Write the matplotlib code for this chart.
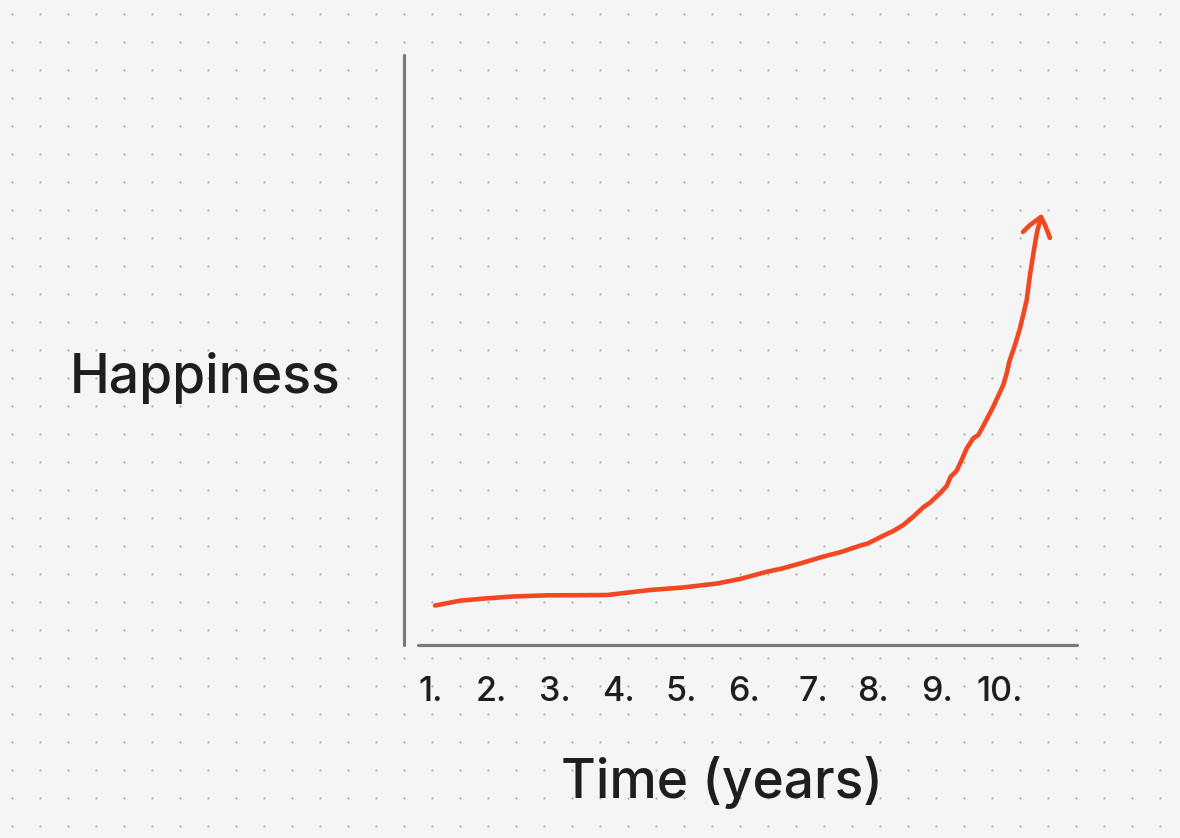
import numpy as np
import matplotlib
matplotlib.use("Agg")
import matplotlib.pyplot as plt

plt.rcParams['font.family'] = ['Inter', 'DejaVu Sans']

# ---- data ----
years = [1.073, 1.468, 1.863, 2.305, 2.842, 3.364, 3.790, 3.996, 4.470, 4.991,
         5.528, 5.892, 6.318, 6.571, 6.840, 7.203, 7.472, 7.788, 7.919, 8.104,
         8.314, 8.472, 8.630, 8.788, 8.894, 9.052, 9.158, 9.221, 9.316, 9.395,
         9.474, 9.578, 9.657, 9.736, 9.894, 10.052, 10.106, 10.147, 10.237, 10.316,
         10.379, 10.422, 10.474, 10.537, 10.585, 10.648]
happiness = [6.69, 7.51, 7.88, 8.22, 8.42, 8.44, 8.47, 8.73, 9.32, 9.75,
             10.42, 11.19, 12.42, 13.0, 13.81, 14.97, 15.71, 16.83, 17.24, 18.25,
             19.32, 20.34, 21.75, 23.34, 24.12, 25.71, 26.95, 28.53, 29.54, 31.36,
             33.34, 35.03, 35.59, 37.12, 40.39, 44.07, 46.05, 48.02, 50.85, 53.68,
             56.49, 58.47, 62.71, 66.95, 70.0, 72.54]
arrow_x = [10.363, 10.474, 10.648, 10.711, 10.790]
arrow_y = [70.0, 71.19, 72.54, 71.19, 69.0]

tick_pos = [1.0, 1.96, 2.97, 3.97, 4.96, 5.96, 7.05, 8.0, 9.0, 10.0]
tick_labels = ["1.", "2.", "3.", "4.", "5.", "6.", "7.", "8.", "9.", "10."]

x_label = "Time (years)"
y_label = "Happiness"

BG = "#f5f5f5"
DOT = "#adadad"
RED = "#f24822"
AXIS = "#7a7a7a"
TXT = "#1e1e1e"

W, H = 1180, 838
fig = plt.figure(figsize=(W / 100, H / 100), dpi=100, facecolor=BG)

# dotted background
bg = fig.add_axes([0, 0, 1, 1])
bg.set_xlim(0, W)
bg.set_ylim(H, 0)
bg.axis("off")
gx, gy = np.meshgrid(np.arange(12, W, 28), np.arange(14, H, 28))
bg.scatter(gx.ravel(), gy.ravel(), s=2.5, color=DOT, linewidths=0)

# main axes
left, right, bottom, top = 404, 1077, 645, 55
ax = fig.add_axes([left / W, (H - bottom) / H, (right - left) / W, (bottom - top) / H])
ax.patch.set_alpha(0)
ax.set_xlim(0.583, 11.217)
ax.set_ylim(0, 100)
for s in ["top", "right"]:
    ax.spines[s].set_visible(False)
for s in ["left", "bottom"]:
    ax.spines[s].set_color(AXIS)
    ax.spines[s].set_linewidth(2.3)
ax.spines["bottom"].set_bounds(0.804, 11.217)
ax.spines["left"].set_capstyle("round")
ax.spines["bottom"].set_capstyle("round")
ax.set_yticks([])
ax.set_xticks(tick_pos)
ax.set_xticklabels(tick_labels, fontsize=24.5, color=TXT, fontweight="medium")
ax.tick_params(axis="x", length=0, pad=22)

ax.plot(years, happiness, color=RED, lw=3.3, solid_capstyle="round",
        solid_joinstyle="round", clip_on=False)
ax.plot(arrow_x, arrow_y, color=RED, lw=3.3, solid_capstyle="round",
        solid_joinstyle="round", clip_on=False)

fig.text(70 / W, (H - 392.7) / H, y_label, fontsize=38.5, color=TXT,
         ha="left", va="baseline", fontweight="medium")
fig.text(561 / W, (H - 798.3) / H, x_label, fontsize=38.4, color=TXT,
         ha="left", va="baseline", fontweight="medium")

fig.savefig("out.png", dpi=100, facecolor=BG)
